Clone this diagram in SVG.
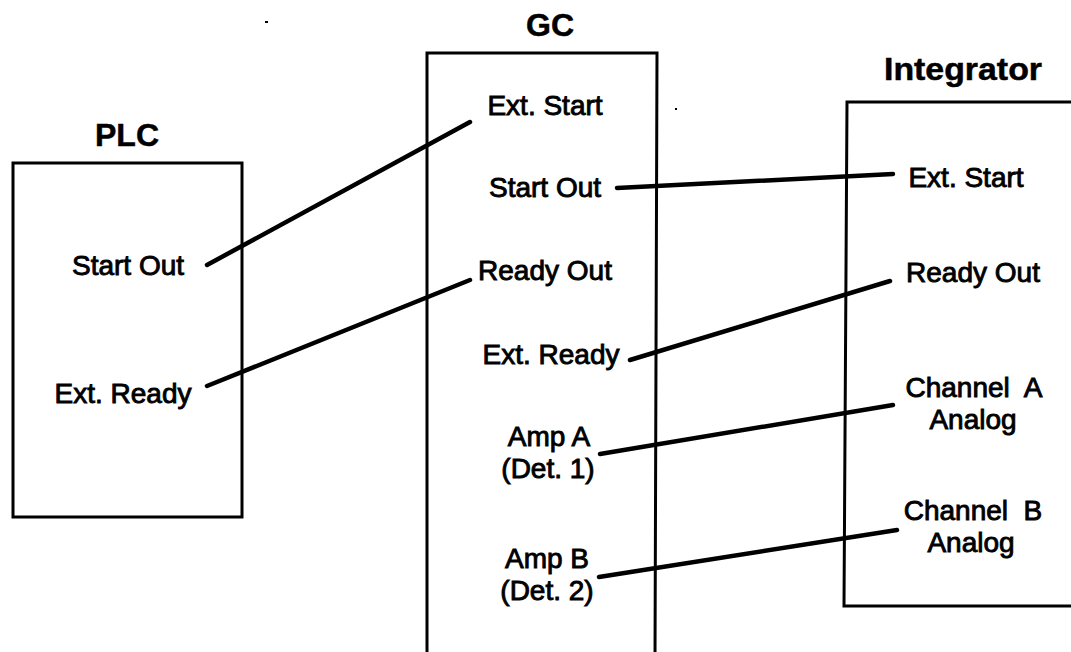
<svg xmlns="http://www.w3.org/2000/svg" width="1071" height="652" viewBox="0 0 1071 652">
<style>
.box{fill:none;stroke:#000;stroke-width:3}
.title{font-family:"Liberation Sans",Arial,sans-serif;font-size:32px;font-weight:bold;fill:#000;stroke:#000;stroke-width:0.5;text-anchor:middle}
.lbl{font-family:"Liberation Sans",Arial,sans-serif;font-size:28px;fill:#000;stroke:#000;stroke-width:0.9;text-anchor:middle;white-space:pre}
.conn{fill:none;stroke:#000;stroke-width:4.5;stroke-linecap:round}
</style>
<rect width="1071" height="652" fill="#fff"/>
<g id="PLC">
<rect class="box" x="13" y="163" width="229" height="354"/>
<text class="title" x="127" y="146">PLC</text>
<text class="lbl" x="128" y="275">Start Out</text>
<text class="lbl" x="123" y="403">Ext. Ready</text>
</g>
<g id="GC">
<path class="box" d="M427,660 L427,53 L657,53 L655,660"/>
<text class="title" x="550" y="36">GC</text>
<text class="lbl" x="545" y="115">Ext. Start</text>
<text class="lbl" x="545" y="197">Start Out</text>
<text class="lbl" x="545" y="280">Ready Out</text>
<text class="lbl" x="551" y="364">Ext. Ready</text>
<text class="lbl" x="549" y="446">Amp A</text>
<text class="lbl" x="548" y="478">(Det. 1)</text>
<text class="lbl" x="547" y="568">Amp B</text>
<text class="lbl" x="547" y="600">(Det. 2)</text>
</g>
<g id="Integrator">
<path class="box" d="M1080,102 L847,102 L844,606 L1080,606"/>
<text class="title" x="963" y="80" textLength="158" lengthAdjust="spacingAndGlyphs">Integrator</text>
<text class="lbl" x="966" y="187">Ext. Start</text>
<text class="lbl" x="973" y="282">Ready Out</text>
<text class="lbl" x="974" y="397">Channel  A</text>
<text class="lbl" x="973" y="429">Analog</text>
<text class="lbl" x="973" y="520">Channel  B</text>
<text class="lbl" x="971" y="552">Analog</text>
</g>
<g id="connectors">
<line class="conn" x1="207" y1="265" x2="470" y2="122"/>
<line class="conn" x1="207" y1="386" x2="470" y2="280"/>
<line class="conn" x1="617" y1="188" x2="893" y2="174"/>
<line class="conn" x1="630" y1="360" x2="890" y2="281"/>
<line class="conn" x1="600" y1="454" x2="893" y2="405"/>
<line class="conn" x1="599" y1="577" x2="897" y2="530"/>
</g>
<rect x="265" y="21" width="3" height="2" fill="#000"/>
<rect x="675" y="108" width="2" height="2" fill="#000"/>
</svg>
